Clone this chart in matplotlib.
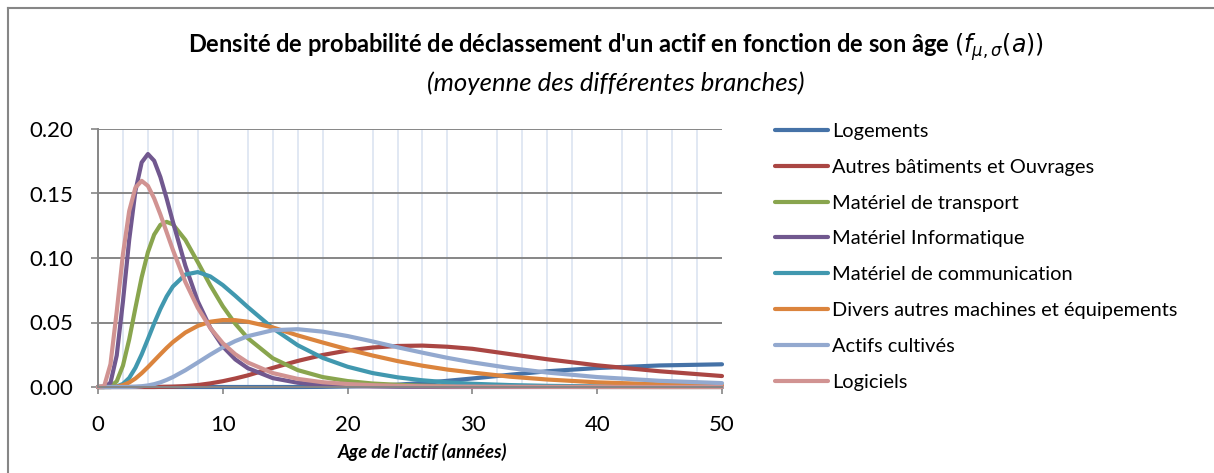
import numpy as np
import matplotlib
matplotlib.use("Agg")
import matplotlib.pyplot as plt
from matplotlib.lines import Line2D
from matplotlib.ticker import MultipleLocator

plt.rcParams['font.family'] = ['Lato', 'DejaVu Sans']

ages = [0, 0.5, 1, 1.5, 2, 2.5, 3, 3.5, 4, 4.5, 5, 5.5, 6, 7, 8, 9, 10, 11, 12,
        14, 16, 18, 20, 22, 24, 26, 28, 30, 33, 36, 40, 45, 50]

logements = [0, 0, 0, 0, 0, 0, 0, 0, 0, 0, 0, 0, 0, 0, 0, 0, 0, 0, 0,
             0, 0, 0.0001, 0.0004, 0.0009, 0.0018, 0.0031, 0.0048, 0.0066,
             0.0095, 0.0122, 0.0147, 0.0167, 0.0176]
autres_batiments = [0, 0, 0, 0, 0, 0, 0, 0, 0, 0, 0.0001, 0.0002, 0.0003, 0.0007,
                    0.0015, 0.0028, 0.0045, 0.0066, 0.0090, 0.0148, 0.0202, 0.0248,
                    0.0283, 0.0306, 0.0318, 0.0321, 0.0312, 0.0296, 0.0255, 0.0215,
                    0.0168, 0.0122, 0.0085]
transport = [0, 0, 0.0004, 0.0044, 0.0166, 0.0369, 0.0614, 0.0851, 0.1045, 0.1181,
             0.1257, 0.1280, 0.1261, 0.1140, 0.0967, 0.0788, 0.0626, 0.0490, 0.0379,
             0.0223, 0.0131, 0.0077, 0.0046, 0.0027, 0.0017, 0.0010, 0.0007, 0.0004,
             0.0002, 0.0001, 0, 0, 0]
informatique = [0, 0, 0.0033, 0.0244, 0.0664, 0.1141, 0.1521, 0.1741, 0.1806, 0.1754,
                0.1627, 0.1461, 0.1281, 0.0940, 0.0663, 0.0459, 0.0314, 0.0214, 0.0146,
                0.0069, 0.0033, 0.0016, 0.0008, 0.0004, 0.0002, 0.0001, 0, 0,
                0, 0, 0, 0, 0]
communication = [0, 0, 0, 0.0004, 0.0024, 0.0070, 0.0149, 0.0253, 0.0372, 0.0493,
                  0.0605, 0.0702, 0.0779, 0.0872, 0.0891, 0.0857, 0.0790, 0.0707, 0.0620,
                  0.0456, 0.0324, 0.0226, 0.0157, 0.0108, 0.0075, 0.0052, 0.0036, 0.0025,
                  0.0015, 0.0009, 0.0005, 0.0002, 0.0001]
divers = [0, 0, 0, 0.0003, 0.0014, 0.0035, 0.0066, 0.0107, 0.0154, 0.0204,
          0.0254, 0.0303, 0.0348, 0.0422, 0.0474, 0.0506, 0.0519, 0.0518, 0.0506,
          0.0462, 0.0400, 0.0345, 0.0292, 0.0244, 0.0201, 0.0165, 0.0135, 0.0112,
          0.0080, 0.0058, 0.0036, 0.0021, 0.0013]
actifs_cultives = [0, 0, 0, 0, 0, 0, 0.0002, 0.0006, 0.0012, 0.0022,
                   0.0036, 0.0055, 0.0077, 0.0130, 0.0190, 0.0251, 0.0308, 0.0356, 0.0394,
                   0.0440, 0.0448, 0.0429, 0.0395, 0.0353, 0.0308, 0.0266, 0.0226, 0.0191,
                   0.0147, 0.0112, 0.0077, 0.0048, 0.0030]
logiciels = [0, 0.0008, 0.0177, 0.0584, 0.1030, 0.1364, 0.1546, 0.1598, 0.1559, 0.1462,
             0.1337, 0.1200, 0.1063, 0.0814, 0.0613, 0.0457, 0.0340, 0.0254, 0.0190,
             0.0108, 0.0063, 0.0037, 0.0023, 0.0014, 0.0009, 0.0006, 0.0004, 0.0003,
             0.0002, 0.0001, 0.0001, 0, 0]

series = [logements, autres_batiments, transport, informatique,
          communication, divers, actifs_cultives, logiciels]
labels = ["Logements", "Autres bâtiments et Ouvrages", "Matériel de transport",
          "Matériel Informatique", "Matériel de communication",
          "Divers autres machines et équipements", "Actifs cultivés", "Logiciels"]
colors = ["#4572A7", "#AA4643", "#89A54E", "#71588F",
          "#4198AF", "#DB843D", "#93A9CF", "#D19392"]

W, H = 1214, 473
fig = plt.figure(figsize=(W / 100, H / 100), dpi=100)
ax = fig.add_axes([98 / W, 86 / H, 624 / W, 258 / H])

for vals, lab, col in zip(series, labels, colors):
    ax.plot(ages, vals, color=col, lw=3.0, label=lab, clip_on=False,
            solid_capstyle='round', solid_joinstyle='round')

ax.set_xlim(0, 50)
ax.set_ylim(0, 0.2)
ax.set_xticks(range(0, 51, 10))
ax.xaxis.set_minor_locator(MultipleLocator(2))
yt = np.arange(0, 0.201, 0.05)
ax.set_yticks(yt)
ax.set_yticklabels([f"{v:.2f}" for v in yt])
ax.set_axisbelow(True)
ax.grid(axis='y', which='major', color='#868686', lw=1.4)
ax.grid(axis='x', which='minor', color='#e1e8f3', lw=1.4)
ax.tick_params(axis='x', which='minor', length=0)
ax.tick_params(which='major', direction='out', length=5, width=1.2,
               color='#868686', labelsize=16)
ax.tick_params(axis='y', pad=13)
ax.tick_params(axis='x', pad=15)
for s in ['top', 'right']:
    ax.spines[s].set_visible(False)
for s in ['left', 'bottom']:
    ax.spines[s].set_color('#868686')
    ax.spines[s].set_linewidth(1.4)

ax.legend(loc='upper left', bbox_to_anchor=(775 / W, 1 - 123 / H),
          bbox_transform=fig.transFigure, frameon=False, fontsize=14.4,
          handlelength=2.65, handletextpad=0.2, labelspacing=0.94,
          borderpad=0, borderaxespad=0)

fig.text(0.507, 1 - 47 / H,
         "Densité de probabilité de déclassement d'un actif en fonction de son âge "
         + r"$(f_{\mu,\sigma}(a))$",
         ha='center', va='center', fontsize=17, fontweight='bold')
fig.text(0.507, 1 - 83 / H, "(moyenne des différentes branches)",
         ha='center', va='center', fontsize=18.5, style='italic')
fig.text(422 / W, 1 - 452 / H, "Age de l'actif (années)",
         ha='center', va='center', fontsize=13.2, fontweight='bold', style='italic')

# outer chart frame (only its left and top edges fall inside the picture)
fig.add_artist(Line2D([8 / W, 8 / W], [0, 1 - 8 / H], transform=fig.transFigure,
                      color='#868686', lw=1.5))
fig.add_artist(Line2D([8 / W, 1.01], [1 - 8 / H, 1 - 8 / H], transform=fig.transFigure,
                      color='#868686', lw=1.5))

fig.savefig("out.png", dpi=100)
